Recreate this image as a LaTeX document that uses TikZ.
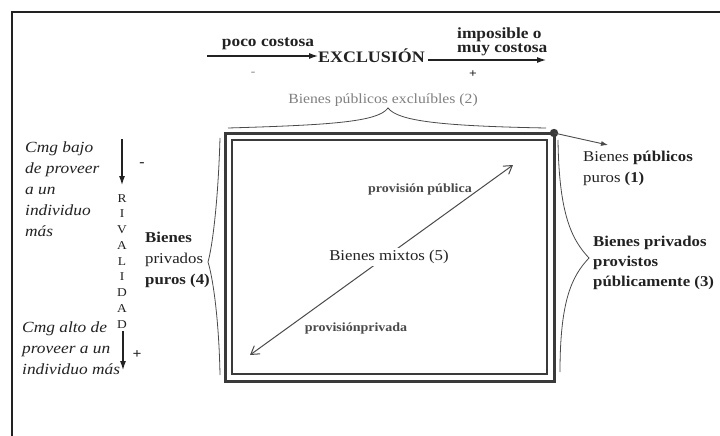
\documentclass[tikz,border=0pt]{standalone}
\usepackage{fontspec}
\setmainfont{Liberation Serif}[FakeStretch=1.12]
\usetikzlibrary{arrows.meta}
\definecolor{ink}{HTML}{222222}
\definecolor{boxc}{HTML}{3A3A3A}
\definecolor{lgray}{HTML}{808080}
\definecolor{mgray}{HTML}{4A4A4A}
\begin{document}
\begin{tikzpicture}[x=1pt,y=-1pt,
  txt/.style={inner sep=0pt, text=ink},
  big/.style={txt, font=\fontsize{15}{21}\selectfont, align=left},
  ital/.style={txt, font=\fontsize{15.5}{21}\itshape\selectfont, align=left},
  small/.style={txt, text=mgray, font=\fontsize{12.5}{14}\bfseries\selectfont},
  blackarrow/.style={-{Latex[length=9pt,width=6pt]}, line width=1.1pt, ink},
  bracec/.style={line width=0.8pt, mgray},
  diag/.style={{Straight Barb[length=8pt,width=10pt]}-{Straight Barb[length=8pt,width=10pt]}, line width=1pt, mgray}
]
\useasboundingbox (0,0) rectangle (720,436);
\fill[white] (0,0) rectangle (720,436);
% outer frame
\draw[line width=2.5pt, ink] (12,436) -- (12,12) -- (720,12);

% main double box
\draw[line width=3pt, boxc] (225,133) rectangle (554,381);
\draw[line width=1.5pt, boxc] (232,140) rectangle (547,374);

% top labels and arrows
\node[txt, font=\fontsize{15.5}{16}\bfseries\selectfont, anchor=base] (poco) at (268,47) {poco costosa};
\node[txt, font=\fontsize{16}{17}\bfseries\selectfont, anchor=base west] (excl) at (318,63) {EXCLUSIÓN};
\node[txt, font=\fontsize{15.5}{14}\bfseries\selectfont, align=left, anchor=north west] (impos) at (457,28) {imposible o\\muy costosa};
\coordinate (a1s) at (207,56);
\coordinate (a2e) at (546,60);
\draw[blackarrow] (a1s) -- (excl.west |- a1s);
\draw[blackarrow] (excl.east |- a2e) ++(3,0) -- (a2e);
\node[txt, text=lgray, font=\fontsize{12}{12}\selectfont] (minus1) at (253,74) {-};
\node[txt, font=\fontsize{12}{12}\bfseries\selectfont] (plus1) at (473,74) {+};

\node[txt, text=lgray, font=\fontsize{14}{16}\selectfont, anchor=base] (excluibles) at (383,103) {Bienes públicos excluíbles (2)};

% top brace
\draw[bracec] (228,128) .. controls (330,125) and (378,122) .. (388,108)
  .. controls (398,121) and (440,126) .. (546,128);

% dot and pure public goods
\fill[boxc] (554,133) circle (4.2);
\coordinate (dot) at (554,133);
\node[big, anchor=north west] (puros1) at (583,151) {Bienes \textbf{públicos}\\puros \textbf{(1)}};
\draw[-{Latex[length=7pt,width=5pt]}, line width=0.9pt, mgray] (dot) -- (608,145);

% right brace
\draw[bracec] (558,140) .. controls (559,215) and (572,240) .. (589,258)
  .. controls (572,276) and (560,300) .. (560,372);
\node[big, font=\fontsize{15}{20}\bfseries\selectfont, anchor=north west] (priv3) at (593,236) {Bienes privados\\provistos\\públicamente (3)};

% left brace
\draw[bracec] (220,138) .. controls (218,205) and (212,248) .. (208,262)
  .. controls (213,278) and (219,320) .. (220,375);
\node[big, anchor=north west] (puros4) at (145,232) {\textbf{Bienes}\\privados\\\textbf{puros (4)}};

% left rivalry column
\node[ital, anchor=north west] (cmgbajo) at (25,142) {Cmg bajo\\de proveer\\a un\\individuo\\más};
\node[ital, anchor=north west] (cmgalto) at (22,322) {Cmg alto de\\proveer a un\\individuo más};
\node[txt, font=\fontsize{12}{15.75}\selectfont, align=center, anchor=north] (rival) at (122,194) {R\\I\\V\\A\\L\\I\\D\\A\\D};
\coordinate (r1s) at (122,139);
\coordinate (r2e) at (123,370);
\draw[blackarrow] (r1s) -- (122,185);
\draw[blackarrow] (rival.south -| r2e) ++(0,3) -- (r2e);
\node[txt, font=\fontsize{14}{14}\bfseries\selectfont] (minus2) at (142,165) {-};
\node[txt, font=\fontsize{14}{14}\bfseries\selectfont] (plus2) at (137,355) {+};

% diagonal
\coordinate (dl) at (250,355);
\coordinate (du) at (513,165);
\draw[diag] (dl) -- (du);
\node[txt, fill=white, inner sep=2pt, font=\fontsize{15}{17}\selectfont] (mixtos) at (389,257) {Bienes mixtos (5)};
\node[small, anchor=base] (pub) at (420,192) {provisión pública};
\node[small, anchor=base] (privp) at (356,331) {provisiónprivada};
\end{tikzpicture}
\end{document}
